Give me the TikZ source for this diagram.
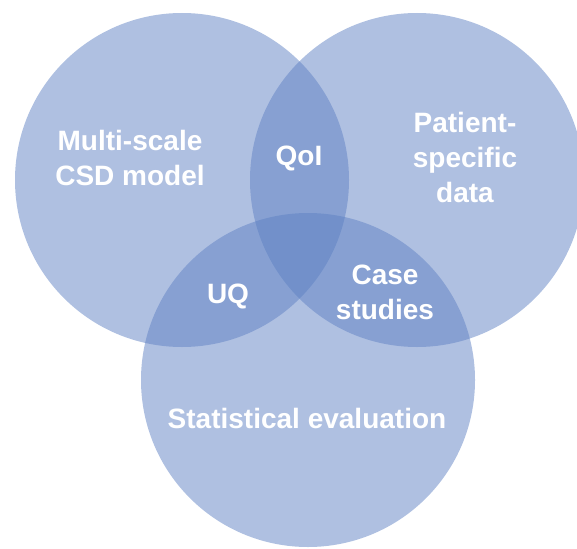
\documentclass[tikz,border=0pt]{standalone}
\usepackage{fontspec}
\setmainfont{Liberation Sans}
\definecolor{vennblue}{RGB}{95,129,195}
\begin{document}
\begin{tikzpicture}[x=1pt, y=-1pt,
    set/.style = {circle, fill=vennblue, fill opacity=0.5, minimum size=334pt, inner sep=0pt},
    lbl/.style = {text=white, align=center, font=\bfseries\fontsize{28}{35}\selectfont}]
    \useasboundingbox (0,0) rectangle (577,548);
    \clip (0,0) rectangle (577,548);
    % the three sets
    \node[set] (csd) at (182,180) {};
    \node[set] (pat) at (417,180) {};
    \node[set] (stat) at (308,380) {};
    % labels
    \node[lbl] (csdlbl) at (130,158) {Multi-scale\\CSD model};
    \node[lbl] (patlbl) at (465,157) {Patient-\\specific\\data};
    \node[lbl] (statlbl) at (307,418) {Statistical evaluation};
    \node[lbl] (qoi) at (299,158) {QoI};
    \node[lbl] (uq) at (228,296) {UQ};
    \node[lbl] (cases) at (385,292) {Case\\studies};
\end{tikzpicture}
\end{document}
